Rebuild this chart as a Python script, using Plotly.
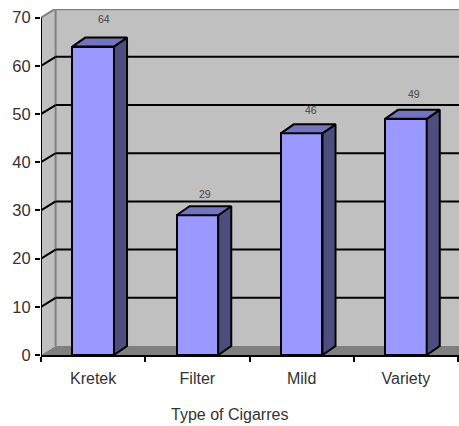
import plotly.graph_objects as go

# Data
categories = ["Kretek", "Filter", "Mild", "Variety"]
values = [64, 29, 46, 49]
value_labels = ["64", "29", "46", "49"]
label_rise = [2.2, 0.9, 1.4, 1.6]
label_shift = [0.10, 0.07, 0.09, 0.08]
y_ticks = [0, 10, 20, 30, 40, 50, 60, 70]
gridlines = [10, 20, 30, 40, 50, 60]
x_title = "Type of Cigarres"

# Style
FRONT = "#9999ff"
TOP = "#7373bf"
SIDE = "#4d4d80"
WALL = "#c0c0c0"
FLOOR = "#808080"
BAR_W = 0.4
BAR_DX, BAR_DY = 0.125, 1.87
WALL_DX, WALL_DY = 0.14, 1.87
X_MAX, Y_MAX = 4.0096, 71.8

fig = go.Figure()
shapes = []


def poly(points, fill, line=None, width=0):
    path = "M " + " L ".join(f"{x},{y}" for x, y in points) + " Z"
    return dict(type="path", path=path, xref="x", yref="y", fillcolor=fill,
                line=dict(color=line or fill, width=width), layer="below")


def seg(x0, y0, x1, y1, color, width):
    return dict(type="line", x0=x0, y0=y0, x1=x1, y1=y1, xref="x", yref="y",
                line=dict(color=color, width=width), layer="below")


top = y_ticks[-1]
# Walls and floor
shapes.append(poly([(0, 0), (WALL_DX, WALL_DY), (WALL_DX, top + WALL_DY), (0, top)], WALL))
shapes.append(poly([(WALL_DX, WALL_DY), (X_MAX, WALL_DY), (X_MAX, top + WALL_DY), (WALL_DX, top + WALL_DY)], WALL))
shapes.append(poly([(0, 0), (WALL_DX, WALL_DY), (X_MAX, WALL_DY), (X_MAX, 0)], FLOOR))
# Wall borders
shapes.append(seg(WALL_DX, WALL_DY, WALL_DX, top + WALL_DY, FLOOR, 2))
shapes.append(seg(WALL_DX, top + WALL_DY - 0.1, X_MAX, top + WALL_DY - 0.1, FLOOR, 2))
shapes.append(seg(0, top, WALL_DX, top + WALL_DY, FLOOR, 2))
# Gridlines
for g in gridlines:
    shapes.append(seg(0, g, WALL_DX, g + WALL_DY, "#000000", 2))
    shapes.append(seg(WALL_DX, g + WALL_DY, X_MAX, g + WALL_DY, "#000000", 2))
# Y axis line
shapes.append(seg(0, 0, 0, top, "#000000", 2))

# Bar front faces
xs = [i + 0.5 for i in range(len(categories))]
fig.add_trace(go.Bar(x=xs, y=values, width=BAR_W, marker=dict(color=FRONT, line=dict(color="#000000", width=2)),
                     showlegend=False, hoverinfo="skip"))

# Bar side and top faces
for x, v in zip(xs, values):
    l, r = x - BAR_W / 2, x + BAR_W / 2
    side_x = [r, r + BAR_DX, r + BAR_DX, r, r]
    side_y = [0, BAR_DY, v + BAR_DY, v, 0]
    top_x = [l, l + BAR_DX, r + BAR_DX, r, l]
    top_y = [v, v + BAR_DY, v + BAR_DY, v, v]
    for px, py, c in ((side_x, side_y, SIDE), (top_x, top_y, TOP)):
        fig.add_trace(go.Scatter(x=px, y=py, mode="lines", fill="toself", fillcolor=c,
                                 line=dict(color="#000000", width=2), showlegend=False, hoverinfo="skip"))

# Value labels
annotations = [
    dict(x=x + s, y=v + BAR_DY + r, text=t, showarrow=False, xref="x", yref="y",
         font=dict(family="Liberation Sans", size=10.5, color="#444444"), yanchor="bottom")
    for x, v, t, r, s in zip(xs, values, value_labels, label_rise, label_shift)
]
annotations.append(dict(x=0.45, y=-0.1734, text=x_title, showarrow=False, xref="paper", yref="paper",
                        font=dict(family="Liberation Sans", size=16, color="#333333"), yanchor="middle"))

fig.update_layout(
    width=459, height=426, autosize=False,
    margin=dict(l=41, r=0, t=9, b=71, pad=0),
    paper_bgcolor="#ffffff", plot_bgcolor="#ffffff",
    font=dict(family="Liberation Sans", size=16, color="#333333"),
    shapes=shapes, annotations=annotations, showlegend=False, bargap=0,
    xaxis=dict(range=[0, X_MAX], tickvals=xs, ticktext=categories, ticks="", showgrid=False, zeroline=False,
               showline=True, linecolor="#000000", linewidth=2, ticklabelstandoff=8,
               minor=dict(tickvals=list(range(len(categories) + 1)), ticks="outside", ticklen=5, tickwidth=2,
                          tickcolor="#000000", showgrid=False),
               tickfont=dict(size=16, color="#333333")),
    yaxis=dict(range=[0, Y_MAX], tickvals=y_ticks, ticks="outside", ticklen=5, tickwidth=2, tickcolor="#000000",
               showgrid=False, zeroline=False, showline=False, ticklabelstandoff=1,
               tickfont=dict(size=16.5, color="#333333")),
)

fig.write_html("out.html", config=dict(displayModeBar=False), post_script="document.body.style.margin='0';")
